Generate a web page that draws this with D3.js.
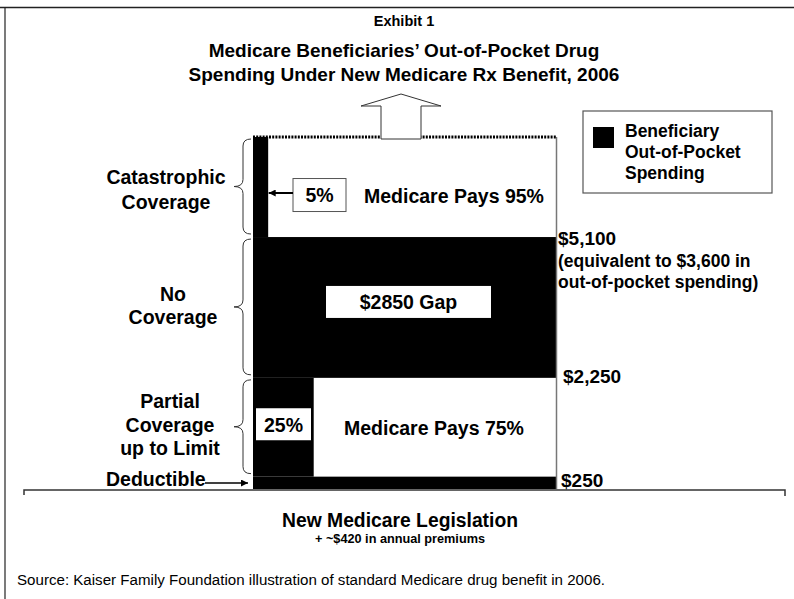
<!DOCTYPE html>
<html>
<head>
<meta charset="utf-8">
<script src="https://cdn.jsdelivr.net/npm/d3@7"></script>
<style>
  html, body { margin: 0; padding: 0; background: #fff; }
  svg { display: block; }
  text { font-family: "Liberation Sans", Arial, sans-serif; fill: #000; }
</style>
</head>
<body>
<script>
// ---- data ----
const segments      = ["Deductible", "Partial Coverage up to Limit", "No Coverage", "Catastrophic Coverage"];
const segStart      = [0, 250, 2250, 5100];
const segEnd        = [250, 2250, 5100, 7125];          // top of catastrophic band is open-ended
const beneShare     = [1, 0.2, 1, 0.05];                 // beneficiary share as drawn
const beneLabels    = [null, "25%", "$2850 Gap", "5%"];
const medicareLabels= [null, "Medicare Pays 75%", null, "Medicare Pays 95%"];
const leftLabels    = [null, ["Partial", "Coverage", "up to Limit"], ["No", "Coverage"], ["Catastrophic", "Coverage"]];
const thresholds    = [250, 2250, 5100];
const thresholdText = ["$250", "$2,250", "$5,100"];
const titleLines    = ["Medicare Beneficiaries\u2019 Out-of-Pocket Drug", "Spending Under New Medicare Rx Benefit, 2006"];

// ---- layout ----
const W = 794, H = 599;
const svg = d3.select("body").append("svg").attr("width", W).attr("height", H);

const y = d3.scaleLinear().domain([0, 7125]).range([489, 137]);
const x = d3.scaleLinear().domain([0, 1]).range([253, 556.5]);

function T(sel) { return sel.style("font-weight", "bold"); }

// frame (top + left)
svg.append("line").attr("x1", 0).attr("x2", W).attr("y1", 7.5).attr("y2", 7.5).attr("stroke", "#222").attr("stroke-width", 1.5);
svg.append("line").attr("x1", 5).attr("x2", 5).attr("y1", 7.5).attr("y2", H).attr("stroke", "#222").attr("stroke-width", 1.2);

// titles
T(svg.append("text")).attr("x", 404).attr("y", 26).attr("text-anchor", "middle").attr("font-size", 14.5).text("Exhibit 1");
T(svg.selectAll("text.title").data(titleLines).join("text").attr("class", "title"))
  .attr("x", 404).attr("y", (d, i) => 57 + i * 24).attr("text-anchor", "middle").attr("font-size", 19).text(d => d);

// arrow marker
const defs = svg.append("defs");
defs.append("marker").attr("id", "ah").attr("viewBox", "0 0 10 10").attr("refX", 10).attr("refY", 5)
  .attr("markerWidth", 9).attr("markerHeight", 7).attr("markerUnits", "userSpaceOnUse").attr("orient", "auto")
  .append("path").attr("d", "M0,0 L10,5 L0,10 z").attr("fill", "#000");

// white background of bar
svg.append("rect").attr("x", x(0)).attr("y", y(7125)).attr("width", x(1) - x(0)).attr("height", y(0) - y(7125)).attr("fill", "#fff");

// beneficiary black parts
svg.selectAll("rect.bene").data(segments).join("rect").attr("class", "bene")
  .attr("x", x(0)).attr("y", (d, i) => y(segEnd[i]))
  .attr("width", (d, i) => x(beneShare[i]) - x(0))
  .attr("height", (d, i) => y(segStart[i]) - y(segEnd[i]))
  .attr("fill", "#000");

// right edge
svg.append("line").attr("x1", x(1)).attr("x2", x(1)).attr("y1", y(7125)).attr("y2", y(0)).attr("stroke", "#777").attr("stroke-width", 1.5);
// dotted open top
svg.append("line").attr("x1", x(0)).attr("x2", x(1)).attr("y1", y(7125)).attr("y2", y(7125))
  .attr("stroke", "#000").attr("stroke-width", 3).attr("stroke-dasharray", "2,1.2");

// up arrow
const ax = 401, aTop = 94, aHead = 106, aBot = 139;
svg.append("path").attr("d", `M${ax},${aTop} L${ax + 40},${aHead} L${ax + 20},${aHead} L${ax + 20},${aBot} L${ax - 20},${aBot} L${ax - 20},${aHead} L${ax - 40},${aHead} Z`)
  .attr("fill", "#fff").attr("stroke", "#333").attr("stroke-width", 1);

// baseline
svg.append("path").attr("d", "M24,495 L24,490 L785,490 L785,496").attr("fill", "none").attr("stroke", "#333").attr("stroke-width", 1.5);

// medicare labels
const medX = [null, 434, null, 454];
const medDy = [null, 8, null, 16];
segments.forEach((s, i) => {
  if (!medicareLabels[i]) return;
  T(svg.append("text")).attr("x", medX[i]).attr("y", (y(segStart[i]) + y(segEnd[i])) / 2 + medDy[i])
    .attr("text-anchor", "middle").attr("font-size", 19.5).text(medicareLabels[i]);
});

// beneficiary label boxes
// 25% box
{
  const i = 1, cy = (y(segStart[i]) + y(segEnd[i])) / 2;
  svg.append("rect").attr("x", 256).attr("y", cy - 19).attr("width", 55).attr("height", 32).attr("fill", "#fff");
  T(svg.append("text")).attr("x", 283.5).attr("y", cy + 5).attr("text-anchor", "middle").attr("font-size", 19.5).text(beneLabels[i]);
}
// gap box
{
  const i = 2, cy = (y(segStart[i]) + y(segEnd[i])) / 2;
  svg.append("rect").attr("x", 326).attr("y", cy - 21.5).attr("width", 165).attr("height", 32).attr("fill", "#fff");
  T(svg.append("text")).attr("x", 408.5).attr("y", cy + 1.5).attr("text-anchor", "middle").attr("font-size", 19.5).text(beneLabels[i]);
}
// 5% box with arrow
{
  const i = 3, cy = (y(segStart[i]) + y(segEnd[i])) / 2 + 8;
  svg.append("rect").attr("x", 293).attr("y", cy - 16.5).attr("width", 53).attr("height", 33).attr("fill", "#fff").attr("stroke", "#555").attr("stroke-width", 1);
  T(svg.append("text")).attr("x", 319.5).attr("y", cy + 7).attr("text-anchor", "middle").attr("font-size", 19.5).text(beneLabels[i]);
  svg.append("line").attr("x1", 293).attr("x2", x(beneShare[i]) + 0.5).attr("y1", cy - 2).attr("y2", cy - 2)
    .attr("stroke", "#000").attr("stroke-width", 2).attr("marker-end", "url(#ah)");
}

// braces
function brace(y1, y2) {
  const xe = 251, xv = 243, xt = 234, ym = (y1 + y2) / 2, r = 7;
  return `M${xe},${y1} Q${xv},${y1} ${xv},${y1 + r} L${xv},${ym - r} Q${xv},${ym} ${xt},${ym} Q${xv},${ym} ${xv},${ym + r} L${xv},${y2 - r} Q${xv},${y2} ${xe},${y2}`;
}
const braceIdx = [1, 2, 3];
svg.selectAll("path.brace").data(braceIdx).join("path").attr("class", "brace")
  .attr("d", i => brace(y(segEnd[i]) + 2, y(segStart[i]) - 3))
  .attr("fill", "none").attr("stroke", "#333").attr("stroke-width", 1);

// left labels
const leftCx = [null, 170, 173, 166];
const leftFirst = [null, 408, 301, 184];
const leftStep = [null, 23.5, 23, 25];
braceIdx.forEach(i => {
  leftLabels[i].forEach((t, k) => {
    T(svg.append("text")).attr("x", leftCx[i]).attr("y", leftFirst[i] + k * leftStep[i])
      .attr("text-anchor", "middle").attr("font-size", 19.5).text(t);
  });
});
// deductible
T(svg.append("text")).attr("x", 106).attr("y", 486).attr("font-size", 19.5).text(segments[0]);
svg.append("line").attr("x1", 205).attr("x2", 248).attr("y1", 483).attr("y2", 483).attr("stroke", "#000").attr("stroke-width", 1.5).attr("marker-end", "url(#ah)");

// threshold labels
const thX = [561, 563, 558];
const thDy = [10.5, 5, 8];
thresholds.forEach((v, k) => {
  T(svg.append("text")).attr("x", thX[k]).attr("y", y(v) + thDy[k]).attr("font-size", 19).text(thresholdText[k]);
});
T(svg.append("text")).attr("x", 558).attr("y", 267).attr("font-size", 17.5).text("(equivalent to $3,600 in");
T(svg.append("text")).attr("x", 558).attr("y", 288).attr("font-size", 17.5).text("out-of-pocket spending)");

// legend
svg.append("rect").attr("x", 583).attr("y", 111).attr("width", 189).attr("height", 82).attr("fill", "#fff").attr("stroke", "#555").attr("stroke-width", 1.2);
svg.append("rect").attr("x", 593).attr("y", 127).attr("width", 21).attr("height", 21).attr("fill", "#000");
["Beneficiary", "Out-of-Pocket", "Spending"].forEach((t, k) => {
  T(svg.append("text")).attr("x", 625).attr("y", 137 + k * 21).attr("font-size", 17.5).text(t);
});

// bottom texts (narrow font)
T(svg.append("text")).attr("x", 400).attr("y", 527).attr("text-anchor", "middle").attr("font-size", 20)
  .attr("textLength", 236).attr("lengthAdjust", "spacingAndGlyphs").text("New Medicare Legislation");
T(svg.append("text")).attr("x", 400).attr("y", 543).attr("text-anchor", "middle").attr("font-size", 13)
  .attr("textLength", 170).attr("lengthAdjust", "spacingAndGlyphs").text("+ ~$420 in annual premiums");
svg.append("text").attr("x", 17).attr("y", 585).attr("font-size", 14).style("font-weight", "normal")
  .attr("textLength", 588).attr("lengthAdjust", "spacingAndGlyphs")
  .text("Source: Kaiser Family Foundation illustration of standard Medicare drug benefit in 2006.");
</script>
</body>
</html>
